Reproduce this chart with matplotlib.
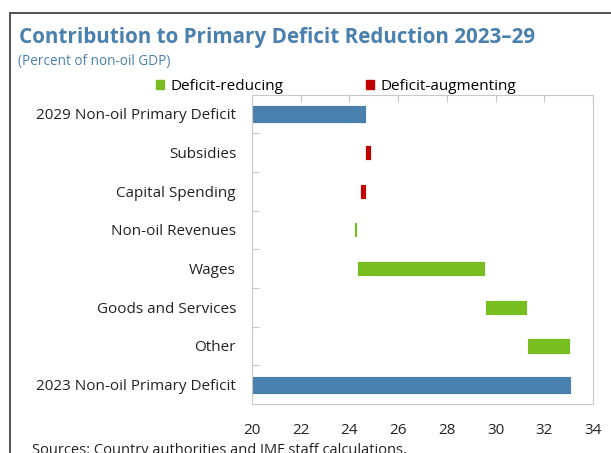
import matplotlib
matplotlib.use('Agg')
import matplotlib.pyplot as plt
from matplotlib.patches import Rectangle, Patch

plt.rcParams['font.family'] = ['Open Sans', 'DejaVu Sans']

# categories, top to bottom
categories = ['2029 Non-oil Primary Deficit', 'Subsidies', 'Capital Spending',
              'Non-oil Revenues', 'Wages', 'Goods and Services', 'Other',
              '2023 Non-oil Primary Deficit']
# bar start / end values (percent of non-oil GDP)
bar_start = [20.0, 24.65, 24.43, 24.2, 24.3, 29.56, 31.27, 20.0]
bar_end = [24.7, 24.89, 24.68, 24.3, 29.56, 31.27, 33.05, 33.1]
kind = ['total', 'up', 'up', 'down', 'down', 'down', 'down', 'total']

xticks = [20, 22, 24, 26, 28, 30, 32, 34]

BLUE = '#4a80ae'
GREEN = '#78be20'
RED = '#c00000'
colors = {'total': BLUE, 'down': GREEN, 'up': RED}
heights = {'total': 0.46, 'down': 0.39, 'up': 0.39}

fig = plt.figure(figsize=(6.11, 4.53), dpi=100)

# outer panel border
fig.patches.append(Rectangle((10 / 611, -0.1), 1.2, 1 - 13 / 453 + 0.1,
                             transform=fig.transFigure, fill=False,
                             edgecolor='#333333', linewidth=1.2))

ax = fig.add_axes([252 / 611, 1 - 404 / 453, 341 / 611, 309.5 / 453])

for i, (s, e, k) in enumerate(zip(bar_start, bar_end, kind)):
    ax.barh(i, e - s, left=s, height=heights[k], color=colors[k],
            edgecolor='white', linewidth=0.6)

ax.set_xlim(20, 34)
ax.set_ylim(len(categories) - 0.5, -0.5)
ax.set_xticks(xticks)
ax.set_xticklabels([str(x) for x in xticks], fontsize=11)
ax.set_yticks(range(len(categories)))
ax.set_yticklabels(categories, fontsize=11)
ax.set_yticks([i + 0.5 for i in range(len(categories) - 1)], minor=True)

ax.tick_params(axis='y', which='major', length=0, pad=11.5, colors='#222222')
ax.tick_params(axis='y', which='minor', direction='in', length=5,
               color='#c8c8c8', width=0.8)
ax.tick_params(axis='x', which='major', bottom=False, top=True,
               direction='in', length=5, color='#c8c8c8', width=0.8,
               pad=14, labelcolor='#222222')

for sp in ax.spines.values():
    sp.set_color('#c8c8c8')
    sp.set_linewidth(0.8)

fig.text(19 / 611, 1 - 43 / 453, 'Contribution to Primary Deficit Reduction 2023\u201329',
         fontsize=14.9, fontweight='bold', color=BLUE, va='baseline')
fig.text(18 / 611, 1 - 61 / 453, '(Percent of non-oil GDP)',
         fontsize=9.8, color=BLUE, va='center')

handles = [Patch(color=GREEN, label='Deficit-reducing'),
           Patch(color=RED, label='Deficit-augmenting')]
fig.legend(handles=handles, loc='center', bbox_to_anchor=(336 / 611, 1 - 86 / 453),
           ncol=2, frameon=False, fontsize=11, handlelength=0.53,
           handleheight=0.53, handletextpad=0.43, columnspacing=5.4)

fig.text(32 / 611, 1 - 443 / 453,
         'Sources: Country authorities and IMF staff calculations.',
         fontsize=10.5, color='#222222', va='top')

fig.savefig('out.png', dpi=100)
